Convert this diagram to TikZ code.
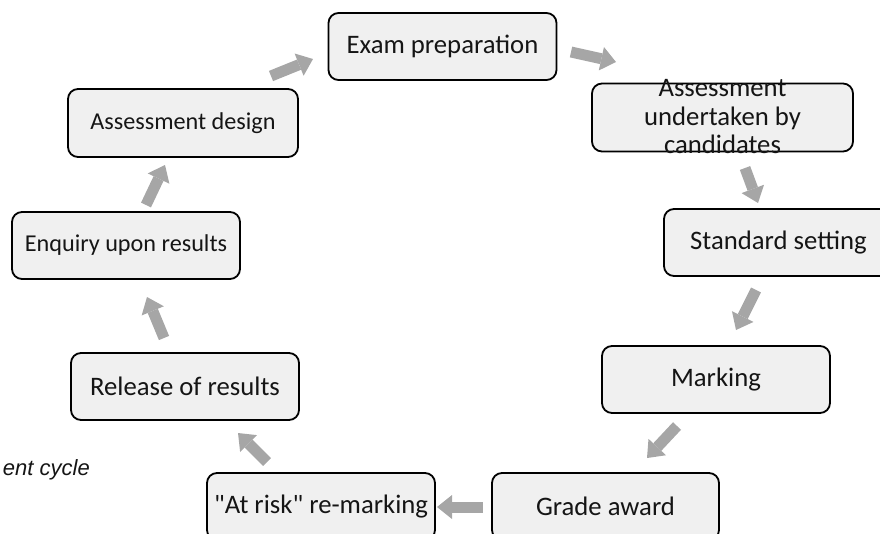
\documentclass[tikz,border=0pt]{standalone}
\usepackage{fontspec}
\setmainfont{Carlito}[Ligatures=TeXOff]
\newfontfamily\arialfont{Liberation Sans}
\usetikzlibrary{arrows.meta}
\definecolor{boxfill}{HTML}{F0F0F0}
\definecolor{arrowgray}{HTML}{A6A6A6}
\definecolor{txt}{HTML}{151515}
\begin{document}
\begin{tikzpicture}[x=1pt,y=-1pt,
  box/.style={draw=black, line width=1.8pt, fill=boxfill, rounded corners=10pt,
    inner sep=0pt, minimum width=228pt, minimum height=67pt, text=txt,
    font=\fontsize{26.7}{30}\selectfont},
  smalltext/.style={font=\fontsize{24.2}{28}\selectfont},
  flow/.style={draw=arrowgray, line width=11pt,
    -{Triangle[width=24pt,length=15pt,line width=0pt]}}
]
\useasboundingbox (0,0) rectangle (880,533);
\clip (0,0) rectangle (880,533);

% boxes
\node[box] (exam) at (442.5,46.5) {Exam preparation};
\node[box, minimum width=261pt, minimum height=68pt] (under) at (722.5,117.5) {};
\node[font=\fontsize{26.7}{28.5}\selectfont, align=center, inner sep=0pt, text=txt] (undertext) at (722.5,117) {Assessment\\undertaken by\\candidates};
\node[box, minimum width=229pt] (standard) at (778.5,242.5) {Standard setting};
\node[box] (marking) at (716,379.5) {Marking};
\node[box, minimum width=227pt] (grade) at (605.5,506.5) {Grade award};
\node[box] (atrisk) at (321,506.5) {"At risk" re-marking};
\node[box] (release) at (185,386.5) {Release of results};
\node[box, smalltext] (enquiry) at (126,245.5) {Enquiry upon results};
\node[box, smalltext, minimum width=230pt, minimum height=68pt] (design) at (183,123) {Assessment design};

% caption fragment
\node[font=\arialfont\itshape\fontsize{22}{26}\selectfont, anchor=base east, inner sep=0pt, text=txt] (caption) at (90,475) {ent cycle};

% arrow end points
\coordinate (a1t) at (271,76);  \coordinate (a1h) at (313,59);
\coordinate (a2t) at (571,52);  \coordinate (a2h) at (616,62);
\coordinate (a3t) at (745,168); \coordinate (a3h) at (758,203);
\coordinate (a4t) at (756,290); \coordinate (a4h) at (736,330);
\coordinate (a5t) at (677,426); \coordinate (a5h) at (647,458);
\coordinate (a6t) at (483,507); \coordinate (a6h) at (437,507);
\coordinate (a7t) at (267,462); \coordinate (a7h) at (238,433);
\coordinate (a8t) at (164,338); \coordinate (a8h) at (147,297);
\coordinate (a9t) at (146,205); \coordinate (a9h) at (165,165);

\draw[flow] (a1t) -- (a1h);
\draw[flow] (a2t) -- (a2h);
\draw[flow] (a3t) -- (a3h);
\draw[flow] (a4t) -- (a4h);
\draw[flow] (a5t) -- (a5h);
\draw[flow] (a6t) -- (a6h);
\draw[flow] (a7t) -- (a7h);
\draw[flow] (a8t) -- (a8h);
\draw[flow] (a9t) -- (a9h);
\end{tikzpicture}
\end{document}
